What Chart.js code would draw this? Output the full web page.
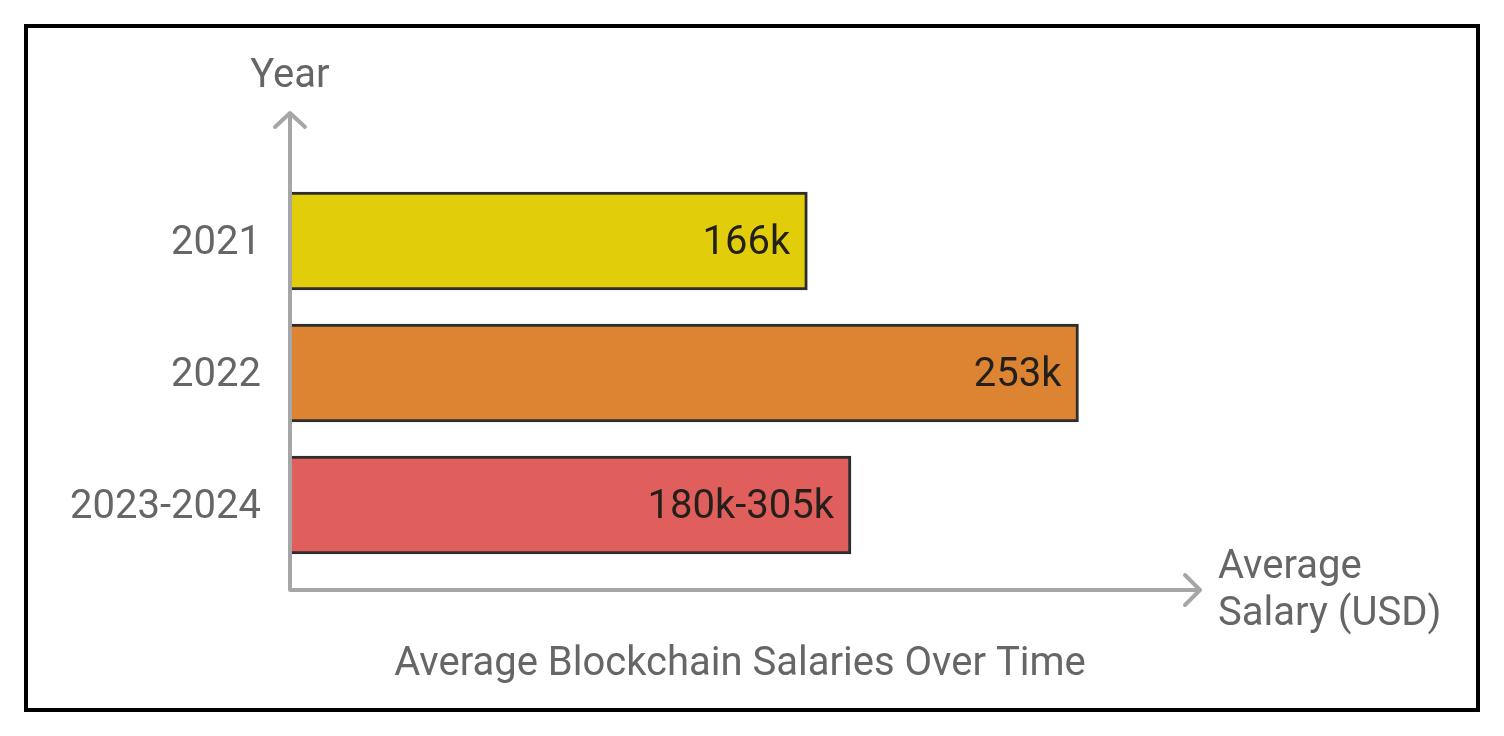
<!DOCTYPE html>
<html>
<head>
<meta charset="utf-8">
<script src="https://cdn.jsdelivr.net/npm/chart.js@4.4.1/dist/chart.umd.min.js"></script>
<style>
  html, body { margin: 0; padding: 0; background: #fff; }
  #wrap { width: 1504px; height: 736px; }
</style>
</head>
<body>
<div id="wrap"><canvas id="salaries" width="1504" height="736"></canvas></div>
<script>
var years = ["2021", "2022", "2023-2024"];
var salaries = [166, 253, 180];
var salaryLabels = ["166k", "253k", "180k-305k"];
var barColors = ["#e2cd0a", "#dd8433", "#e05f5c"];

var FONT = "Roboto, 'Noto Sans', sans-serif";
var AXIS_GREY = "#a6a6a6";

// axis arrows, value labels, frame and captions
var decor = {
  id: "decor",
  afterDatasetsDraw: function(chart) {
    var ctx = chart.ctx;
    var area = chart.chartArea;
    var meta = chart.getDatasetMeta(0);

    ctx.save();
    ctx.font = "40px " + FONT;
    ctx.fillStyle = "#231f1a";
    ctx.textAlign = "right";
    ctx.textBaseline = "middle";
    meta.data.forEach(function(bar, i) {
      ctx.fillText(salaryLabels[i], bar.x - 17, bar.y + 3);
    });

    var x0 = area.left, y0 = area.bottom + 19;
    ctx.strokeStyle = AXIS_GREY;
    ctx.lineWidth = 4;
    ctx.lineCap = "round";
    ctx.lineJoin = "round";
    ctx.beginPath();
    ctx.moveTo(x0, y0);
    ctx.lineTo(x0, 113);
    ctx.moveTo(x0 - 15, 127);
    ctx.lineTo(x0, 113);
    ctx.lineTo(x0 + 15, 127);
    ctx.moveTo(x0, y0);
    ctx.lineTo(area.right, y0);
    ctx.moveTo(area.right - 15, y0 - 15);
    ctx.lineTo(area.right, y0);
    ctx.lineTo(area.right - 15, y0 + 15);
    ctx.stroke();
    ctx.restore();
  },
  afterDraw: function(chart) {
    var ctx = chart.ctx;
    ctx.save();
    ctx.strokeStyle = "#000";
    ctx.lineWidth = 4;
    ctx.strokeRect(26, 26, 1452, 684);

    ctx.font = "40px " + FONT;
    ctx.fillStyle = "#666";
    ctx.textBaseline = "alphabetic";
    ctx.textAlign = "center";
    ctx.fillText("Year", 290, 87);
    ctx.fillText("Average Blockchain Salaries Over Time", 740, 675);
    ctx.textAlign = "left";
    ctx.fillText("Average", 1218, 578);
    ctx.fillText("Salary (USD)", 1218, 625);
    ctx.restore();
  }
};

var config = {
  type: "bar",
  data: {
    labels: years,
    datasets: [
      {
        label: "Average salary",
        data: salaries,
        backgroundColor: barColors,
        borderColor: "#2d2d2d",
        borderWidth: 3,
        borderSkipped: "start",
        barThickness: 98
      }
    ]
  },
  options: {
    indexAxis: "y",
    responsive: false,
    animation: false,
    devicePixelRatio: 1,
    layout: { padding: { left: 0, right: 304, top: 175, bottom: 165 } },
    plugins: {
      legend: { display: false },
      tooltip: { enabled: false },
      title: { display: false }
    },
    scales: {
      x: { min: 0, max: 292, display: false },
      y: {
        grid: { display: false, drawTicks: false },
        border: { display: false },
        ticks: {
          color: "#666",
          padding: 29,
          labelOffset: 3,
          font: { family: FONT, size: 40 }
        },
        afterFit: function(scale) { scale.width = 290; }
      }
    }
  },
  plugins: [decor]
};

window.addEventListener("load", function() {
  var ctx = document.getElementById("salaries");
  new Chart(ctx, config);
});
</script>
</body>
</html>
